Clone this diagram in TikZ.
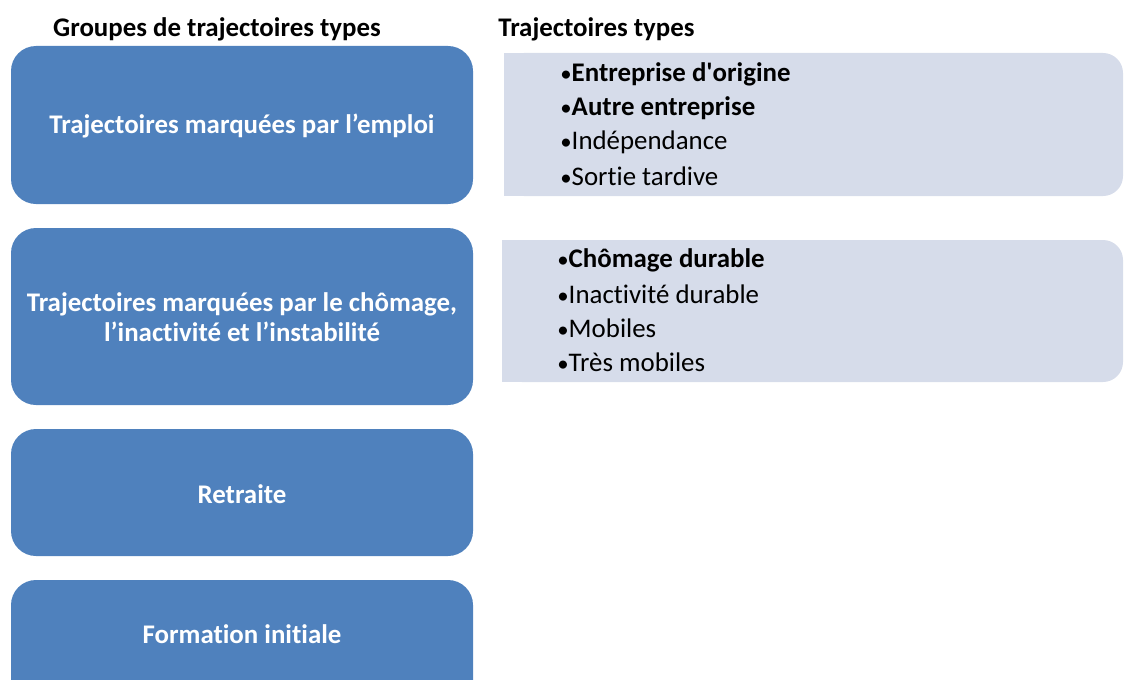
\documentclass[tikz,border=0pt]{standalone}
\usepackage{fontspec}
\setmainfont{Carlito}[Ligatures=CommonOff]
\usepackage{tikz}
\usetikzlibrary{positioning}
\definecolor{grpblue}{RGB}{79,129,189}
\definecolor{typelav}{RGB}{214,220,234}
\tikzset{
  grptext/.style={font=\fontsize{15.3}{17}\selectfont\bfseries, text=white, align=center},
  headtext/.style={font=\fontsize{15.3}{17}\selectfont\bfseries},
  itemtext/.style={font=\fontsize{15.3}{17}\selectfont, anchor=west, inner sep=0pt}
}
\newcommand{\itembul}{{\fontsize{13}{17}\selectfont•}}

\begin{document}
\begin{tikzpicture}[x=0.02cm,y=-0.02cm]
\useasboundingbox (0,0) rectangle (1124,679);
\clip (0,0) rectangle (1124,679);

% Headers
\node[headtext] (hgroups) at (217,29) {Groupes de trajectoires types};
\node[headtext, anchor=west, inner sep=0pt] (htypes) at (498,29) {Trajectoires types};

% Group boxes
\fill[grpblue, rounded corners=0.5cm] (11,46) rectangle (473,204);
\fill[grpblue, rounded corners=0.5cm] (11,228) rectangle (473,405);
\fill[grpblue, rounded corners=0.5cm] (11,429) rectangle (473,556);
\fill[grpblue, rounded corners=0.5cm] (11,580) rectangle (473,720);

\node[grptext] (emploi) at (242,126) {Trajectoires marquées par l’emploi};
\node[grptext] (chomage) at (242,317) {Trajectoires marquées par le chômage,\\l’inactivité et l’instabilité};
\node[grptext] (retraite) at (242,494) {Retraite};
\node[grptext] (formation) at (242,634) {Formation initiale};

% Type lists
\fill[typelav, rounded corners=0.4cm] (504,53) rectangle (1123,196);
\fill[typelav] (504,53) rectangle (800,196);
\fill[typelav, rounded corners=0.4cm] (502,240) rectangle (1123,382);
\fill[typelav] (502,240) rectangle (800,382);

\foreach \y/\txt [count=\i] in {74/{\textbf{Entreprise d\textquotesingle origine}}, 108/{\textbf{Autre entreprise}}, 142/{Indépendance}, 176/{Sortie tardive}}
  \node[itemtext] (emp\i) at (560,\y) {\itembul\txt};

\foreach \y/\txt [count=\i] in {260/{\textbf{Chômage durable}}, 294/{Inactivité durable}, 328/{Mobiles}, 362/{Très mobiles}}
  \node[itemtext] (cho\i) at (557,\y) {\itembul\txt};
\end{tikzpicture}
\end{document}
